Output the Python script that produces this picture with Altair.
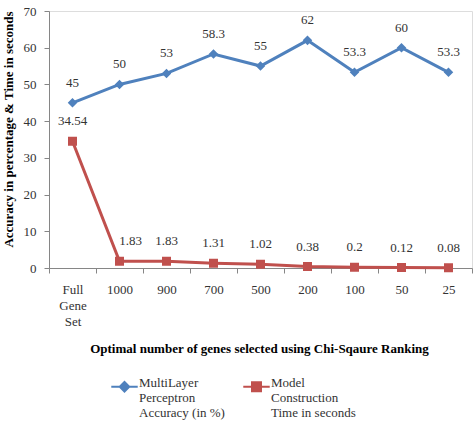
import altair as alt
import pandas as pd

categories = ["Full Gene Set", "1000", "900", "700", "500", "200", "100", "50", "25"]
mlp_accuracy = [45, 50, 53, 58.3, 55, 62, 53.3, 60, 53.3]
build_time = [34.54, 1.83, 1.83, 1.31, 1.02, 0.38, 0.2, 0.12, 0.08]
series_names = ["MultiLayer Perceptron Accuracy (in %)", "Model Construction Time in seconds"]
series_colors = ["#4F81BD", "#C0504D"]
y_ticks = [0, 10, 20, 30, 40, 50, 60, 70]

rows = []
for c, a, t in zip(categories, mlp_accuracy, build_time):
    rows.append({"cat": c, "series": series_names[0], "value": a, "label": f"{a:g}"})
    rows.append({"cat": c, "series": series_names[1], "value": t, "label": f"{t:g}"})
df = pd.DataFrame(rows)

FONT = "Liberation Serif"
TXT = "#333333"
GRAY = "#868686"

diamond = "M-1,0L1,0M0,-0.36L0.36,0L0,0.36L-0.36,0Z"
square = "M-1,0L1,0M-0.34,-0.34L0.34,-0.34L0.34,0.34L-0.34,0.34Z"

x_enc = alt.X(
    "cat:N",
    sort=categories,
    scale=alt.Scale(type="band", paddingInner=0, paddingOuter=0),
    axis=alt.Axis(
        title="Optimal number of genes selected using Chi-Sqaure Ranking",
        titleFont=FONT, titleFontSize=13, titleFontWeight="bold", titleColor="#000000",
        titleX=210, titleY=80, titleBaseline="middle",
        labelFont=FONT, labelFontSize=13, labelColor=TXT, labelAngle=0,
        labelExpr="datum.value == 'Full Gene Set' ? ['Full','Gene','Set'] : datum.value",
        labelBaseline="top", labelLineHeight=16, labelPadding=10,
        tickBand="extent", tickSize=5, tickColor=GRAY, domainColor=GRAY,
        grid=False,
    ),
)
y_enc = alt.Y(
    "value:Q",
    scale=alt.Scale(domain=[0, 70]),
    axis=alt.Axis(
        values=y_ticks,
        title="Accuracy in percentage & Time in seconds",
        titleFont=FONT, titleFontSize=13, titleFontWeight="bold", titleColor="#000000",
        titleX=-41, titleY=118, titleBaseline="middle", titleAngle=-90,
        labelFont=FONT, labelFontSize=13, labelColor=TXT, labelPadding=8,
        tickSize=5, tickColor=GRAY, domainColor=GRAY, grid=False,
    ),
)
color_scale = alt.Scale(domain=series_names, range=series_colors)
shape_scale = alt.Scale(domain=series_names, range=[diamond, square])

legend = alt.Legend(
    title=None, orient="none", legendX=61, legendY=361, direction="horizontal",
    labelFont=FONT, labelFontSize=13, labelColor=TXT,
    labelExpr="datum.value == 'MultiLayer Perceptron Accuracy (in %)' ? ['MultiLayer','Perceptron','Accuracy (in %)'] : ['Model','Construction',' Time in seconds']",
    labelBaseline="alphabetic", labelOffset=0, symbolSize=700, symbolStrokeWidth=2,
    columnPadding=14,
)

lines = alt.Chart(df).mark_line(strokeWidth=3).encode(
    x=x_enc, y=y_enc,
    color=alt.Color("series:N", sort=series_names, scale=color_scale, legend=legend),
)
points = alt.Chart(df).mark_point(filled=True, opacity=1, size=700, strokeWidth=0).encode(
    x=x_enc,
    y=y_enc,
    color=alt.Color("series:N", sort=series_names, scale=color_scale, legend=legend),
    shape=alt.Shape("series:N", sort=series_names, scale=shape_scale, legend=legend),
)
labels = alt.Chart(df).mark_text(
    font=FONT, fontSize=13, color=TXT, dy=-20,
    dx=alt.expr("datum.cat == '1000' && datum.value < 10 ? 11 : 0"),
).encode(
    x=x_enc, y=y_enc, text="label:N"
)

chart = alt.layer(lines, points, labels).properties(
    width=423, height=257,
    autosize=alt.AutoSizeParams(type="none"),
    padding={"left": 49, "top": 11, "right": 2, "bottom": 166},
).configure_view(stroke=None).configure(background="white")

chart.save("out.html", embed_options={"renderer": "svg", "actions": False})
